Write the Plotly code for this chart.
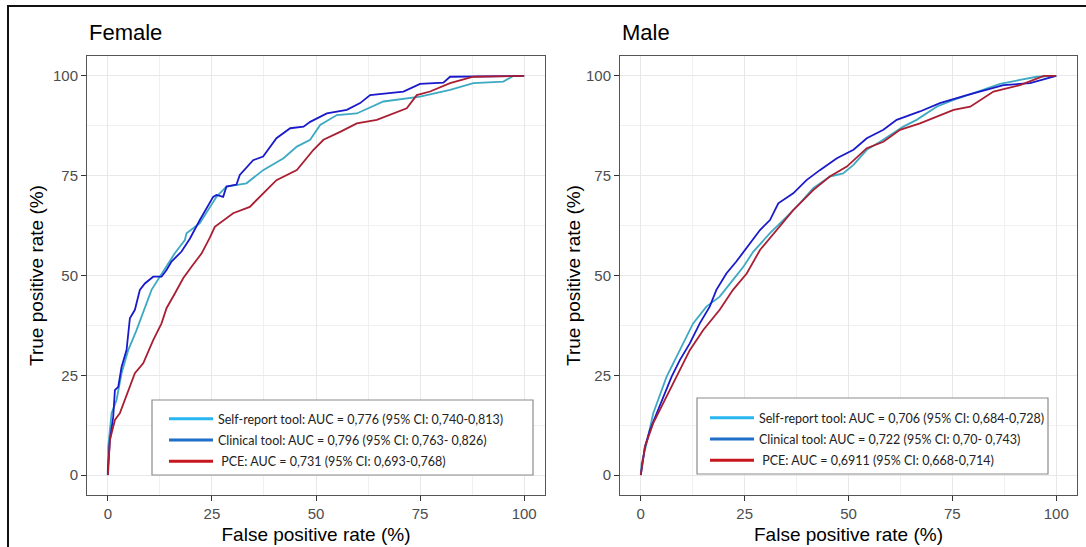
import plotly.graph_objects as go

# ---------------- data ----------------
female_self_fpr = [0, 0.1, 0.9, 2.1, 3.3, 4.9, 6.9, 8.9, 10.5, 12.5, 14.1, 16.1, 18.5, 18.9, 22.1, 26.1, 28.5, 33.3, 37.3, 42.2, 45.4, 48.6, 51.0, 55.0, 59.8, 66.2, 75.0, 82.2, 87.8, 95.0, 97.4, 100]
female_self_tpr = [0, 7.1, 15.5, 18.8, 25.5, 31.3, 36.3, 42.2, 46.4, 49.7, 52.2, 55.6, 58.9, 60.6, 63.1, 69.7, 72.3, 73.1, 76.4, 79.4, 82.3, 84.0, 87.7, 90.2, 90.6, 93.6, 94.8, 96.5, 98.2, 98.6, 100, 100]

female_clin_fpr = [0, 0, 0.5, 1.3, 1.7, 2.5, 3.3, 4.5, 5.3, 6.5, 7.7, 8.9, 10.9, 12.9, 14.1, 15.3, 17.7, 19.7, 22.1, 25.3, 26.1, 27.7, 28.5, 30.9, 31.7, 34.9, 37.3, 40.5, 43.8, 47.0, 48.6, 52.6, 57.4, 60.6, 63.0, 71.0, 75.0, 80.6, 82.2, 100]
female_clin_tpr = [0, 1.2, 8.8, 14.6, 21.3, 22.1, 27.1, 31.3, 39.3, 41.4, 46.4, 48.0, 49.7, 49.7, 51.4, 53.5, 56.0, 59.2, 63.9, 69.7, 70.2, 69.7, 72.3, 72.8, 75.2, 78.9, 79.8, 84.4, 86.9, 87.3, 88.5, 90.6, 91.5, 93.2, 95.2, 96.1, 98.0, 98.3, 99.8, 100]

female_pce_fpr = [0, 0.1, 0.5, 1.7, 2.9, 4.9, 6.5, 8.5, 10.9, 12.9, 14.1, 16.1, 18.1, 20.1, 22.5, 24.5, 25.7, 30.1, 34.1, 40.5, 45.4, 49.4, 51.8, 55.8, 59.8, 64.6, 71.8, 74.2, 77.4, 82.2, 87.8, 100]
female_pce_tpr = [0, 1.2, 8.8, 13.8, 15.5, 21.3, 25.5, 28.0, 33.8, 38.0, 41.8, 45.5, 49.3, 52.2, 55.5, 59.5, 62.2, 65.6, 67.2, 73.9, 76.4, 81.5, 84.0, 86.0, 88.1, 89.0, 91.9, 95.2, 96.1, 98.2, 99.8, 100]

male_self_fpr = [0, 0.2, 1.4, 3.0, 6.2, 9.4, 12.6, 15.8, 19.0, 22.2, 24.7, 27.1, 31.1, 35.1, 38.3, 41.5, 45.5, 48.7, 51.2, 54.4, 57.6, 63.2, 66.4, 71.2, 75.3, 80.1, 86.5, 91.3, 95.3, 100]
male_self_tpr = [0, 2.9, 7.9, 15.5, 24.6, 31.3, 38.0, 42.2, 44.7, 48.9, 52.2, 56.0, 60.6, 64.7, 68.1, 71.9, 74.8, 75.6, 77.7, 81.5, 83.5, 87.3, 89.0, 92.3, 94.0, 95.7, 98.0, 99.0, 99.8, 100]

male_clin_fpr = [0, 0.2, 1.0, 2.2, 3.8, 5.4, 7.4, 9.4, 11.8, 14.2, 16.6, 18.2, 20.6, 23.0, 25.1, 28.7, 31.1, 33.1, 36.7, 39.9, 43.1, 47.2, 51.2, 54.4, 58.4, 61.6, 67.2, 72.0, 78.5, 83.3, 87.3, 93.7, 100]
male_clin_tpr = [0, 1.2, 7.1, 11.3, 15.5, 19.6, 24.6, 28.8, 33.0, 38.0, 42.2, 46.4, 50.5, 53.5, 56.4, 61.4, 63.9, 68.1, 70.6, 73.9, 76.4, 79.4, 81.5, 84.4, 86.5, 89.0, 91.1, 93.2, 95.2, 96.5, 97.7, 98.2, 100]

male_pce_fpr = [0, 0.2, 1.0, 3.0, 5.4, 8.6, 11.8, 15.0, 19.0, 22.2, 25.5, 28.7, 32.7, 36.7, 41.5, 45.5, 49.6, 54.4, 58.4, 62.4, 67.2, 71.2, 75.3, 79.3, 84.9, 91.3, 97.0, 100]
male_pce_tpr = [0, 1.2, 7.1, 13.0, 18.0, 24.6, 31.3, 36.3, 41.4, 46.4, 50.5, 56.4, 61.4, 66.4, 71.4, 74.8, 77.3, 81.9, 83.5, 86.5, 88.1, 89.8, 91.5, 92.3, 96.1, 97.7, 100, 100]

panel_titles = ["Female", "Male"]
female_labels = [
    "Self-report tool: AUC = 0,776 (95% CI: 0,740-0,813)",
    "Clinical tool: AUC = 0,796 (95% CI: 0,763- 0,826)",
    " PCE: AUC = 0,731 (95% CI: 0,693-0,768)",
]
male_labels = [
    "Self-report tool: AUC = 0,706 (95% CI: 0,684-0,728)",
    "Clinical tool: AUC = 0,722 (95% CI: 0,70- 0,743)",
    " PCE: AUC = 0,6911 (95% CI: 0,668-0,714)",
]
tick_vals = [0, 25, 50, 75, 100]
minor_vals = [12.5, 37.5, 62.5, 87.5]
x_title = "False positive rate (%)"
y_title = "True positive rate (%)"

# ---------------- styling ----------------
curve_colors = ["#3DA9C3", "#1A1ACB", "#A91E32"]
legend_colors = ["#29B6F0", "#1F6FC8", "#C8161E"]
W, H = 1086, 547
FONT = "Liberation Sans"

fig = go.Figure()

panels = [
    ("f", female_labels, [(female_self_fpr, female_self_tpr), (female_clin_fpr, female_clin_tpr), (female_pce_fpr, female_pce_tpr)], "x", "y", "legend"),
    ("m", male_labels, [(male_self_fpr, male_self_tpr), (male_clin_fpr, male_clin_tpr), (male_pce_fpr, male_pce_tpr)], "x2", "y2", "legend2"),
]

for key, labels, series, xa, ya, lg in panels:
    for (fx, ty), col in zip(series, curve_colors):
        fig.add_trace(go.Scatter(x=fx, y=ty, mode="lines", line=dict(color=col, width=1.8),
                                 xaxis=xa, yaxis=ya, showlegend=False, hoverinfo="skip"))
    for i, (lab, col) in enumerate(zip(labels, legend_colors)):
        fig.add_trace(go.Scatter(x=[None], y=[None], mode="lines", line=dict(color=col, width=3),
                                 name=lab, xaxis=xa, yaxis=ya, legend=lg, showlegend=True,
                                 legendgroup=f"{key}{i}"))

def px_x(p):
    return p / W

def px_y(p):
    return 1 - p / H

axis_common = dict(
    range=[-5, 105], tickvals=tick_vals, ticks="outside", ticklen=5, tickwidth=1, tickcolor="#333333",
    tickfont=dict(family=FONT, size=15, color="#4D4D4D"),
    showgrid=True, gridcolor="#E8E8E8", gridwidth=1.2,
    minor=dict(tickvals=minor_vals, showgrid=True, gridcolor="#F0F0F0", gridwidth=0.8, ticks=""),
    zeroline=False, showline=True, linecolor="#555555", linewidth=1, mirror=True,
)

def ttl(text, standoff):
    return dict(text=text, font=dict(family=FONT, size=19, color="black"), standoff=standoff)

ydom = [px_y(495), px_y(56)]
leg_font = dict(family="Lato", size=12.5, color="#222222")
fig.update_layout(
    width=W, height=H, margin=dict(l=0, r=0, t=0, b=0),
    paper_bgcolor="white", plot_bgcolor="white",
    xaxis=dict(domain=[px_x(87), px_x(545)], anchor="y", title=ttl(x_title, 6), **axis_common),
    yaxis=dict(domain=ydom, anchor="x", title=ttl(y_title, 4), **axis_common),
    xaxis2=dict(domain=[px_x(620), px_x(1077)], anchor="y2", title=ttl(x_title, 6), **axis_common),
    yaxis2=dict(domain=ydom, anchor="x2", title=ttl(y_title, 0), **axis_common),
    legend=dict(x=px_x(164), y=px_y(404), xanchor="left", yanchor="top", bgcolor="rgba(0,0,0,0)",
                borderwidth=0, font=leg_font, tracegroupgap=2, itemwidth=44),
    legend2=dict(x=px_x(705), y=px_y(403), xanchor="left", yanchor="top", bgcolor="rgba(0,0,0,0)",
                 borderwidth=0, font=leg_font, tracegroupgap=2, itemwidth=44),
    showlegend=True,
)

# legend boxes (white fill over the grid, grey border)
for (x0, y0, x1, y1) in [(152, 400, 533, 475), (697, 398, 1048, 474)]:
    fig.add_shape(type="rect", xref="paper", yref="paper", x0=px_x(x0), x1=px_x(x1), y0=px_y(y1), y1=px_y(y0),
                  line=dict(color="#8C8C8C", width=1.2), fillcolor="white", layer="above")

# outer frame
fig.add_shape(type="rect", xref="paper", yref="paper", x0=px_x(8), x1=1.02, y0=-0.03, y1=px_y(6),
              line=dict(color="#111111", width=2), fillcolor="rgba(0,0,0,0)", layer="above")

# panel titles
for txt, xpx in zip(panel_titles, [87, 620]):
    fig.add_annotation(text=txt, xref="paper", yref="paper", x=px_x(xpx), y=px_y(33), xanchor="left",
                       yanchor="middle", showarrow=False, font=dict(family=FONT, size=22, color="black"))

fig.write_html("out.html", config={"displayModeBar": False},
               post_script="document.body.style.margin='0px';document.body.style.overflow='hidden';")
